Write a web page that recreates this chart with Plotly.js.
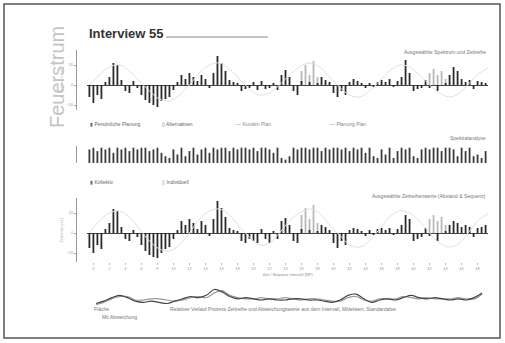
<!DOCTYPE html>
<html><head><meta charset="utf-8">
<script src="https://cdn.plot.ly/plotly-3.0.1.min.js"></script>
<style>html,body{margin:0;padding:0;background:#fff}#c{width:505px;height:343px}</style>
</head><body><div id="c"></div>
<script>
// ---- data ----
const topDark = [-12,-18,-10,-14,3,8,22,20,5,-6,-8,4,-3,-10,-15,-18,-20,-22,-16,-14,-12,-5,3,10,6,12,8,4,10,6,-3,12,29,22,14,5,3,2,-6,-4,-3,3,-5,4,-4,-3,2,-5,10,15,8,-6,-10,4,0,3,0,2,8,5,3,-8,-12,-6,-10,3,6,4,2,-3,2,-2,3,5,3,6,-2,4,8,25,12,-6,-4,-3,5,-3,0,-6,0,2,10,18,14,6,3,5,-4,4,3,2];
const topLight = [0,0,0,0,0,0,0,0,0,0,0,0,0,0,0,0,0,0,0,0,0,0,0,0,0,0,0,0,0,0,0,0,0,0,0,0,0,0,0,0,0,0,0,0,0,0,0,0,0,0,0,0,0,14,20,10,24,8,0,0,0,0,0,0,0,0,0,0,0,0,0,0,0,0,0,0,0,0,0,0,0,0,0,0,0,12,16,10,14,6,0,0,0,0,0,0,0,0,0,0];
const topWave = [0,10,18,20,14,4,-6,-14,-16,-10,0,12,20,22,16,6,-4,-10,-8,0,10,18,22,18,8,-2,-10,-12,-6,4,14,20,18,10,0,-8,-12,-8,2,12,18];
const midBars = [8,9,7,9,8,9,6,9,8,9,7,9,8,9,9,7,8,9,6,4,3,8,5,9,4,7,9,5,8,9,6,9,8,9,9,7,9,8,9,9,8,9,7,9,9,8,6,9,3,2,4,9,8,9,9,8,9,9,7,9,8,9,9,8,9,7,9,8,9,6,9,4,3,8,5,9,3,7,9,8,9,4,3,8,9,8,9,9,7,9,9,8,4,9,7,9,4,5,3,7];
const lowDark = [-15,-20,-12,-16,4,10,24,22,6,-6,-8,3,-4,-12,-18,-22,-24,-25,-20,-16,-14,-6,3,12,8,14,10,4,12,8,-3,14,32,25,16,5,3,2,-8,-10,-6,-8,-10,4,-6,-10,2,-6,12,15,8,-8,-10,4,0,3,0,2,8,6,3,-10,-15,-8,-12,3,5,4,2,-3,3,-2,4,5,3,5,-2,4,8,18,14,-8,-6,-4,5,-3,0,-8,0,2,8,12,10,6,8,6,-4,5,6,8];
const lowLight = [0,0,0,0,0,0,0,0,0,0,0,0,0,0,0,0,0,0,0,0,0,0,0,0,0,0,0,0,0,0,0,0,0,0,0,0,0,0,0,0,0,0,0,0,0,0,0,0,0,0,0,0,0,18,25,14,28,10,0,0,0,0,0,0,0,0,0,0,0,0,0,0,0,0,0,0,0,0,0,0,0,0,0,0,0,14,18,12,16,8,0,0,0,0,0,0,0,0,0,0];
const lowWave = [0,12,20,22,16,4,-8,-16,-18,-12,0,14,22,24,18,6,-4,-12,-10,0,12,20,24,20,8,-2,-12,-14,-8,4,16,22,20,12,0,-10,-14,-10,2,14,20];
const lineDark = [8,10,13,15,13,10,9,10,9,8,10,12,14,13,15,20,18,14,12,13,12,11,12,11,11,12,12,11,11,10,9,11,15,16,12,9,11,12,11,13,15,13,12,13,12,11,12,11,13,17];
const lineGray = [7,9,12,14,14,11,11,12,12,11,10,11,13,14,13,17,19,15,13,12,12,13,12,12,13,12,11,12,12,11,10,10,13,14,11,10,12,12,12,14,13,12,13,12,12,12,13,12,12,16];
const xTickLabels = ['0','2','4','6','8','10','12','14','16','18','20','22','24','26','28','30','32','34','36','38','40','42','44','46','48'];
const topLegend = ['Persönliche Planung','Alternativen','Kunden Plan','Planung Plan'];
const midLegend = ['Kollektiv','Individuell'];

// ---- build ----
const idx = topDark.map((_, i) => i);
const waveX = topWave.map((_, i) => i * 2.5);
const lineX = lineDark.map((_, i) => i);
const BW = 0.45;
const traces = [
  {type:'scatter', mode:'lines', x: waveX, y: topWave, xaxis:'x', yaxis:'y', line:{color:'#e0e0e0', width:1, shape:'spline'}, hoverinfo:'skip'},
  {type:'bar', x: idx, y: topLight, xaxis:'x', yaxis:'y', marker:{color:'#b8b8b8'}, width:BW},
  {type:'bar', x: idx, y: topDark, xaxis:'x', yaxis:'y', marker:{color:'#2a2a2a'}, width:BW},
  {type:'bar', x: idx, y: midBars, xaxis:'x2', yaxis:'y2', marker:{color:'#3a3a3a'}, width:BW},
  {type:'scatter', mode:'lines', x: waveX, y: lowWave, xaxis:'x3', yaxis:'y3', line:{color:'#e0e0e0', width:1, shape:'spline'}, hoverinfo:'skip'},
  {type:'bar', x: idx, y: lowLight, xaxis:'x3', yaxis:'y3', marker:{color:'#b8b8b8'}, width:BW},
  {type:'bar', x: idx, y: lowDark, xaxis:'x3', yaxis:'y3', marker:{color:'#2a2a2a'}, width:BW},
  {type:'scatter', mode:'lines', x: lineX, y: lineGray, xaxis:'x4', yaxis:'y4', line:{color:'#9a9a9a', width:1.2, shape:'spline'}},
  {type:'scatter', mode:'lines', x: lineX, y: lineDark, xaxis:'x4', yaxis:'y4', line:{color:'#444', width:1.2, shape:'spline'}}
];
const X0 = 87/505, X1 = 488/505;
const py = p => 1 - p/343;
const baseX = {domain:[X0,X1], range:[-0.6,99.6], showgrid:false, zeroline:false, showticklabels:false, ticks:''};
const tiny = {family:'Liberation Sans, Arial, sans-serif', size:4, color:'#999'};
const layout = {
  width:505, height:343, margin:{l:0,r:0,t:0,b:0}, showlegend:false, barmode:'overlay',
  paper_bgcolor:'#fff', plot_bgcolor:'rgba(0,0,0,0)',
  font:{family:'Liberation Sans, Arial, sans-serif', color:'#333'},
  xaxis: Object.assign({}, baseX, {anchor:'y'}),
  yaxis: {domain:[py(110), py(50)], range:[-25,35], anchor:'free', position:76/505, showline:true, linecolor:'#999', linewidth:1,
          showgrid:false, zeroline:true, zerolinecolor:'#444', zerolinewidth:1, ticks:'outside', ticklen:2, tickcolor:'#aaa',
          tickvals:[-20,0,20], tickfont:tiny,
          title:{text:'Spektrum (rel.)', font:{size:4, color:'#aaa'}, standoff:2}},
  xaxis2: Object.assign({}, baseX, {anchor:'y2'}),
  yaxis2: {domain:[py(163), py(146)], range:[0,10], anchor:'free', position:76/505, showline:true, linecolor:'#999', showgrid:false,
           zeroline:false, showticklabels:false, ticks:''},
  xaxis3: Object.assign({}, baseX, {anchor:'y3', showticklabels:true, tickmode:'array', tickvals: xTickLabels.map((_, i) => i*4+1), ticktext: xTickLabels,
           tickfont:tiny, ticks:'outside', ticklen:2, tickcolor:'#bbb',
           title:{text:'Zeit / Sequenz Intervall (NP)', font:{size:4, color:'#888'}, standoff:3}}),
  yaxis3: {domain:[py(262), py(198)], range:[-29,35], anchor:'free', position:76/505, showline:true, linecolor:'#999', showgrid:false,
           zeroline:true, zerolinecolor:'#444', zerolinewidth:1, ticks:'outside', ticklen:2, tickcolor:'#aaa', tickvals:[-20,0,20], tickfont:tiny,
           title:{text:'Zeitreihe (rel.)', font:{size:4, color:'#aaa'}, standoff:2}},
  xaxis4: {domain:[92/505, 486/505], range:[-0.5,49.5], anchor:'y4', showgrid:false, zeroline:false, showticklabels:false, ticks:''},
  yaxis4: {domain:[py(307), py(286)], range:[5,23], anchor:'x4', showgrid:false, zeroline:false, showticklabels:false, ticks:'', showline:false},
  shapes: [
    {type:'rect', xref:'paper', yref:'paper', x0:4/505, x1:500/505, y0:py(338), y1:py(4), line:{color:'#555', width:1.5}},
    {type:'line', xref:'paper', yref:'paper', x0:166/505, x1:268/505, y0:py(37), y1:py(37), line:{color:'#888', width:1}}
  ],
  annotations: [
    {text:'Feuerstrum', xref:'paper', yref:'paper', x:57/505, y:py(77), xanchor:'center', yanchor:'middle', textangle:-90, showarrow:false,
     font:{family:'Liberation Sans, Arial, sans-serif', size:20, color:'#c4c4c4'}},
    {text:'<b>Interview 55</b>', xref:'paper', yref:'paper', x:87/505, y:py(33), xanchor:'left', yanchor:'middle', showarrow:false,
     font:{family:'Liberation Sans, Arial, sans-serif', size:13, color:'#333'}},
    {text:'Ausgewählte Spektrum und Zeitreihe', xref:'paper', yref:'paper', x:488/505, y:py(47), xanchor:'right', showarrow:false, font:{size:5, color:'#777'}},
    {text:'Spektralanalyse', xref:'paper', yref:'paper', x:488/505, y:py(138), xanchor:'right', showarrow:false, font:{size:5, color:'#777'}},
    {text:'Ausgewählte Zeitreihenwerte (Abstand & Sequenz)', xref:'paper', yref:'paper', x:488/505, y:py(196), xanchor:'right', showarrow:false, font:{size:5, color:'#777'}},
    {text:'▮ ' + topLegend[0], xref:'paper', yref:'paper', x:88/505, y:py(124), xanchor:'left', showarrow:false, font:{size:5, color:'#666'}},
    {text:'▯ ' + topLegend[1], xref:'paper', yref:'paper', x:160/505, y:py(124), xanchor:'left', showarrow:false, font:{size:5, color:'#666'}},
    {text:'— ' + topLegend[2], xref:'paper', yref:'paper', x:234/505, y:py(124), xanchor:'left', showarrow:false, font:{size:5, color:'#888'}},
    {text:'— ' + topLegend[3], xref:'paper', yref:'paper', x:328/505, y:py(124), xanchor:'left', showarrow:false, font:{size:5, color:'#888'}},
    {text:'▮ ' + midLegend[0], xref:'paper', yref:'paper', x:88/505, y:py(182), xanchor:'left', showarrow:false, font:{size:5, color:'#666'}},
    {text:'▯ ' + midLegend[1], xref:'paper', yref:'paper', x:160/505, y:py(182), xanchor:'left', showarrow:false, font:{size:5, color:'#666'}},
    {text:'Fläche', xref:'paper', yref:'paper', x:92/505, y:py(314), xanchor:'left', showarrow:false, font:{size:5, color:'#777'}},
    {text:'Mit Abweichung', xref:'paper', yref:'paper', x:100/505, y:py(322), xanchor:'left', showarrow:false, font:{size:5, color:'#777'}},
    {text:'Relativer Verlauf Prozess Zeitreihe und Abweichungswerte aus dem Intervall, Mittelwert, Standardabw.', xref:'paper', yref:'paper', x:168/505, y:py(314), xanchor:'left', showarrow:false, font:{size:5, color:'#777'}}
  ]
};
Plotly.newPlot('c', traces, layout, {staticPlot:true, displayModeBar:false});
</script></body></html>
